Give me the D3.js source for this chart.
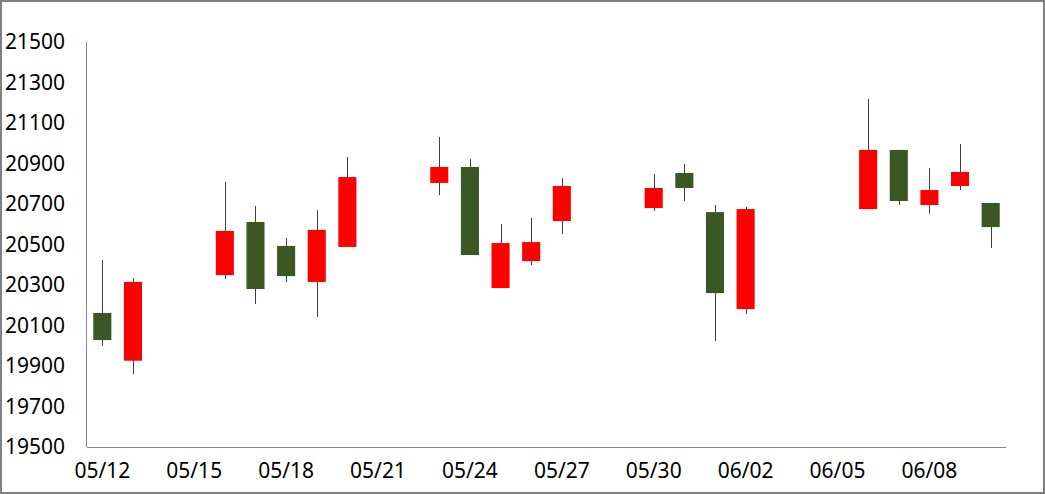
<!DOCTYPE html>
<html>
<head>
<meta charset="utf-8">
<script src="https://cdn.jsdelivr.net/npm/d3@7"></script>
<style>
  html, body { margin: 0; padding: 0; background: #fff; }
  svg { display: block; }
  text { font-family: "Noto Sans", "Open Sans", sans-serif; fill: #000; }
</style>
</head>
<body>
<svg id="chart" width="1045" height="494"></svg>
<script>
// ---- data ----
const dates  = ["05/12","05/13","05/16","05/17","05/18","05/19","05/20","05/23","05/24","05/25","05/26","05/27","05/30","05/31","06/01","06/02","06/06","06/07","06/08","06/09","06/10"];
const opens  = [20162, 19926, 20349, 20611, 20493, 20315, 20488, 20804, 20883, 20285, 20418, 20616, 20680, 20853, 20660, 20181, 20675, 20967, 20695, 20789, 20705];
const highs  = [20423, 20333, 20809, 20690, 20532, 20670, 20932, 21031, 20922, 20601, 20631, 20828, 20848, 20898, 20695, 20685, 21219, 20967, 20878, 20996, 20705];
const lows   = [19999, 19860, 20330, 20206, 20315, 20142, 20488, 20744, 20448, 20285, 20399, 20552, 20665, 20715, 20023, 20157, 20675, 20695, 20651, 20769, 20483];
const closes = [20028, 20315, 20567, 20280, 20344, 20572, 20833, 20883, 20448, 20507, 20512, 20789, 20779, 20779, 20260, 20675, 20967, 20715, 20769, 20858, 20586];
const allDays = ["05/12","05/13","05/14","05/15","05/16","05/17","05/18","05/19","05/20","05/21","05/22","05/23","05/24","05/25","05/26","05/27","05/28","05/29","05/30","05/31","06/01","06/02","06/03","06/04","06/05","06/06","06/07","06/08","06/09","06/10"];
const xTickLabels = ["05/12","05/15","05/18","05/21","05/24","05/27","05/30","06/02","06/05","06/08"];
const yTicks = [19500, 19700, 19900, 20100, 20300, 20500, 20700, 20900, 21100, 21300, 21500];

const upColor = "#FF0000", downColor = "#3A5724", wickColor = "#404040", axisColor = "#868686";

const svg = d3.select("#chart");

// outer border
svg.append("rect").attr("x", 1).attr("y", 1).attr("width", 1043).attr("height", 492)
  .attr("fill", "#fff").attr("stroke", "#808080").attr("stroke-width", 2);

const x = d3.scaleBand().domain(allDays).range([87, 1006]).padding(0);
const y = d3.scaleLinear().domain([19500, 21500]).range([447, 42]);

const bodyW = x.bandwidth() * 0.59;

// axes
const xAxis = d3.axisBottom(x).tickValues(xTickLabels).tickSize(0).tickPadding(16);
const gx = svg.append("g").attr("transform", "translate(0,447)").call(xAxis);
gx.select(".domain").attr("stroke", axisColor).attr("d", "M87,0.5H1006");
gx.selectAll("text").attr("font-size", 21).style("font-family", '"Noto Sans", sans-serif');

const yAxis = d3.axisLeft(y).tickValues(yTicks).tickSize(0).tickPadding(22).tickFormat(d3.format("d"));
const gy = svg.append("g").attr("transform", "translate(87,0)").call(yAxis);
gy.select(".domain").attr("stroke", axisColor).attr("d", "M-0.5,42V447");
gy.selectAll("text").attr("font-size", 21).style("font-family", '"Noto Sans", sans-serif');

// candles
const data = dates.map((d, i) => ({ d, o: opens[i], h: highs[i], l: lows[i], c: closes[i] }));
const cx = d => x(d.d) + x.bandwidth() / 2;

const g = svg.append("g");
g.selectAll("line.wick").data(data).join("line")
  .attr("class", "wick")
  .attr("x1", d => Math.round(cx(d)) + 0.5).attr("x2", d => Math.round(cx(d)) + 0.5)
  .attr("y1", d => y(d.h)).attr("y2", d => y(d.l))
  .attr("stroke", wickColor).attr("stroke-width", 1);

g.selectAll("rect.body").data(data).join("rect")
  .attr("class", "body")
  .attr("x", d => cx(d) - bodyW / 2)
  .attr("width", bodyW)
  .attr("y", d => y(Math.max(d.o, d.c)))
  .attr("height", d => Math.max(1, Math.abs(y(d.o) - y(d.c))))
  .attr("fill", d => d.c >= d.o ? upColor : downColor);
</script>
</body>
</html>
